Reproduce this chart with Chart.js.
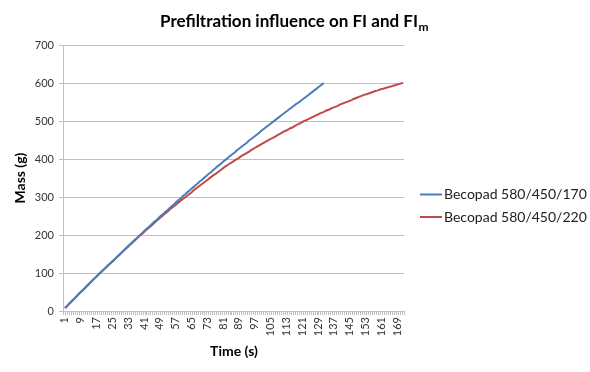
<!DOCTYPE html>
<html>
<head>
<meta charset="utf-8">
<script src="https://cdn.jsdelivr.net/npm/chart.js@4.4.0/dist/chart.umd.min.js"></script>
<style>
  body { margin: 0; background: #fff; }
  #wrap { width: 590px; height: 372px; }
</style>
</head>
<body>
<div id="wrap"><canvas id="massChart"></canvas></div>
<script>
// time in seconds, one category per second
const timeLabels = Array.from({ length: 172 }, (_, i) => String(i + 1));

const seriesNames = ['Becopad 580/450/170', 'Becopad 580/450/220'];
const seriesColors = ['#4a7ebb', '#be4b48'];

// mass (g), Becopad 580/450/170
const mass170 = [
  8, 13, 19, 24, 29, 34, 40, 45, 50, 55, 60,
  66, 71, 76, 81, 86, 91, 97, 102, 106, 111,
  116, 121, 126, 131, 136, 141, 146, 151, 156, 161,
  166, 171, 176, 181, 186, 190, 195, 200, 205, 210,
  215, 219, 224, 229, 234, 238, 243, 248, 253, 257,
  262, 266, 271, 276, 280, 285, 290, 294, 299, 304,
  308, 313, 317, 322, 326, 331, 335, 340, 344, 349,
  353, 358, 362, 366, 371, 375, 380, 384, 388, 393,
  397, 401, 406, 410, 414, 418, 423, 427, 431, 435,
  439, 443, 448, 452, 456, 460, 464, 468, 473, 477,
  481, 485, 489, 493, 497, 501, 505, 509, 513, 517,
  521, 525, 529, 533, 537, 541, 545, 548, 552, 556,
  560, 564, 568, 572, 576, 580, 584, 588, 592, 596, 600
];

// mass (g), Becopad 580/450/220
const mass220 = [
  8, 12, 18, 23, 29, 34, 39, 45, 50, 55, 60,
  65, 70, 76, 81, 86, 91, 96, 101, 106, 111,
  116, 121, 126, 130, 135, 140, 145, 150, 155, 160,
  165, 170, 175, 179, 184, 189, 194, 199, 203, 208,
  213, 217, 222, 226, 231, 236, 240, 245, 249, 254,
  258, 262, 267, 271, 275, 279, 284, 288, 292, 296,
  300, 304, 308, 312, 317, 321, 325, 329, 333, 337,
  341, 345, 349, 353, 357, 360, 364, 368, 372, 376,
  380, 383, 387, 390, 393, 397, 400, 403, 407, 410,
  413, 416, 419, 423, 426, 429, 432, 435, 438, 441,
  444, 447, 450, 453, 455, 458, 461, 464, 467, 470,
  473, 475, 478, 481, 483, 486, 489, 492, 494, 497,
  500, 502, 505, 507, 510, 512, 515, 517, 520, 522,
  524, 527, 529, 531, 534, 536, 538, 540, 543, 545,
  547, 549, 551, 553, 555, 558, 560, 562, 564, 566,
  568, 570, 571, 573, 575, 577, 579, 580, 582, 584,
  585, 587, 588, 590, 591, 593, 594, 596, 597, 599, 600
];

const FONT = 'Lato, "Open Sans", sans-serif';
const gridGrey = '#c0c0c0';

// title with subscript m, drawn on the canvas
const titleWithSub = {
  id: 'titleWithSub',
  afterDraw(chart) {
    const ctx = chart.ctx;
    const main = 'Prefiltration influence on FI and FI';
    const sub = 'm';
    ctx.save();
    ctx.fillStyle = '#000';
    ctx.textBaseline = 'alphabetic';
    ctx.font = 'bold 17px ' + FONT;
    const w1 = ctx.measureText(main).width;
    ctx.font = 'bold 12px ' + FONT;
    const w2 = ctx.measureText(sub).width;
    const x0 = 294 - (w1 + w2) / 2;
    ctx.font = 'bold 17px ' + FONT;
    ctx.fillText(main, x0, 27);
    ctx.font = 'bold 12px ' + FONT;
    ctx.fillText(sub, x0 + w1 + 0.5, 31);
    ctx.restore();
  }
};

// legend on the right: built-in one is squeezed to half the free width
const sideLegend = {
  id: 'sideLegend',
  afterDraw(chart) {
    const ctx = chart.ctx;
    const x0 = chart.chartArea.right + 16;
    ctx.save();
    ctx.font = '14px ' + FONT;
    ctx.textBaseline = 'middle';
    chart.data.datasets.forEach((ds, i) => {
      const y = 194.5 + i * 22.5;
      ctx.strokeStyle = ds.borderColor;
      ctx.lineWidth = 2;
      ctx.beginPath();
      ctx.moveTo(x0, y);
      ctx.lineTo(x0 + 22, y);
      ctx.stroke();
      ctx.fillStyle = '#222';
      ctx.fillText(ds.label, x0 + 24, y);
    });
    ctx.restore();
  }
};

new Chart(document.getElementById('massChart').getContext('2d'), {
  type: 'line',
  data: {
    labels: timeLabels,
    datasets: [
      {
        label: seriesNames[0],
        data: mass170,
        borderColor: seriesColors[0],
        backgroundColor: seriesColors[0],
        borderWidth: 2,
        pointRadius: 0,
        tension: 0
      },
      {
        label: seriesNames[1],
        data: mass220,
        borderColor: seriesColors[1],
        backgroundColor: seriesColors[1],
        borderWidth: 2,
        pointRadius: 0,
        tension: 0
      }
    ]
  },
  options: {
    responsive: true,
    maintainAspectRatio: false,
    animation: false,
    layout: { padding: { top: 45, left: 12, right: 186, bottom: 12 } },
    plugins: {
      title: { display: false },
      tooltip: { enabled: false },
      legend: { display: false }
    },
    scales: {
      x: {
        offset: true,
        grid: {
          display: true,
          drawOnChartArea: false,
          drawTicks: true,
          tickLength: 4,
          color: gridGrey,
          offset: true
        },
        border: { color: gridGrey },
        ticks: {
          autoSkip: false,
          maxRotation: 90,
          minRotation: 90,
          padding: 2,
          color: '#333',
          font: { family: FONT, size: 11 },
          callback: function (value, index) {
            return index % 8 === 0 ? this.getLabelForValue(value) : '';
          }
        },
        title: {
          display: true,
          text: 'Time (s)',
          color: '#000',
          padding: { top: 5, bottom: 0 },
          font: { family: FONT, size: 14, weight: 'bold' }
        }
      },
      y: {
        min: 0,
        max: 700,
        ticks: {
          stepSize: 100,
          padding: 5,
          color: '#333',
          font: { family: FONT, size: 11 }
        },
        grid: { color: gridGrey, tickLength: 5 },
        border: { color: gridGrey },
        title: {
          display: true,
          text: 'Mass (g)',
          color: '#000',
          padding: { top: 0, bottom: 1 },
          font: { family: FONT, size: 14, weight: 'bold' }
        }
      }
    }
  },
  plugins: [titleWithSub, sideLegend]
});
</script>
</body>
</html>
